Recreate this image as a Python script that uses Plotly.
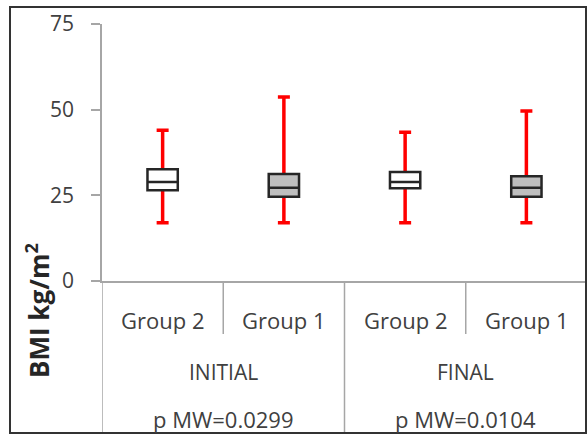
import plotly.graph_objects as go

# ---- data ----
groups = ["Group 2", "Group 1", "Group 2", "Group 1"]
periods = ["INITIAL", "FINAL"]
p_labels = ["p MW=0.0299", "p MW=0.0104"]
lower = [17.0, 17.0, 17.0, 17.0]
q1 = [26.5, 24.6, 27.1, 24.6]
median = [28.9, 27.2, 28.9, 27.2]
q3 = [32.6, 31.2, 31.8, 30.6]
upper = [44.0, 53.7, 43.4, 49.6]
fills = ["#ffffff", "#bfbfbf", "#ffffff", "#bfbfbf"]
y_ticks = [0, 25, 50, 75]

pos = list(range(len(groups)))
TXT = "#404040"
GRID = "#a6a6a6"
FONT = "Open Sans"

fig = go.Figure()

# red whiskers drawn as error bars of an invisible bar trace (bar layer lies below box layer)
fig.add_trace(go.Bar(
    x=pos, y=median, width=0.01,
    marker=dict(color="rgba(0,0,0,0)", line=dict(width=0)),
    error_y=dict(type="data", symmetric=False,
                 array=[u - m for u, m in zip(upper, median)],
                 arrayminus=[m - l for m, l in zip(median, lower)],
                 color="#ff0000", thickness=3.5, width=6),
    hoverinfo="skip", showlegend=False))

for i in pos:
    fig.add_trace(go.Box(
        x=[i], q1=[q1[i]], median=[median[i]], q3=[q3[i]],
        lowerfence=[q1[i]], upperfence=[q3[i]],
        width=0.25, fillcolor=fills[i],
        line=dict(color="#262626", width=2.5),
        boxpoints=False, showlegend=False, hoverinfo="skip"))

# layout geometry (pixels -> paper)
W, H = 588, 445
L, R, T, B = 102, 1, 24, 164
pw, ph = W - L - R, H - T - B
def px(xp):
    return (xp - L) / pw
def py(yp):
    return (H - B - yp) / ph

BOTTOM_PX = 433
shapes = []
bottom = py(BOTTOM_PX)
short = py(334)
for xv in [-0.5, 1.5]:
    shapes.append(dict(type="line", xref="x", yref="paper", x0=xv, x1=xv, y0=0, y1=bottom,
                       line=dict(color=GRID, width=1.5)))
for xv in [0.5, 2.5]:
    shapes.append(dict(type="line", xref="x", yref="paper", x0=xv, x1=xv, y0=0, y1=short,
                       line=dict(color=GRID, width=1.5)))
shapes.append(dict(type="rect", xref="paper", yref="paper",
                   x0=px(10), x1=px(586), y0=py(BOTTOM_PX), y1=py(7),
                   line=dict(color="#333333", width=2)))

annotations = []
for i, g in enumerate(groups):
    annotations.append(dict(x=i, y=py(320), xref="x", yref="paper", text=g, showarrow=False,
                            font=dict(family=FONT, size=22, color=TXT), yanchor="middle"))
for k, (p, pl) in enumerate(zip(periods, p_labels)):
    xc = 2 * k + 0.5
    annotations.append(dict(x=xc, y=py(372), xref="x", yref="paper", text=p, showarrow=False,
                            font=dict(family=FONT, size=21, color=TXT), yanchor="middle"))
    annotations.append(dict(x=xc, y=py(419), xref="x", yref="paper", text=pl, showarrow=False,
                            font=dict(family=FONT, size=22, color=TXT), yanchor="middle"))
annotations.append(dict(x=px(38), y=py(311), xref="paper", yref="paper",
                        text="<b>BMI kg/m<sup>2</sup></b>", textangle=-90, showarrow=False,
                        font=dict(family=FONT, size=26, color="#262626"),
                        xanchor="center", yanchor="middle"))

fig.update_layout(
    width=W, height=H,
    margin=dict(l=L, r=R, t=T, b=B),
    paper_bgcolor="white", plot_bgcolor="white",
    font=dict(family=FONT, color=TXT),
    xaxis=dict(range=[-0.5, 3.5], showticklabels=False, ticks="", showgrid=False,
               zeroline=False, showline=True, linecolor=GRID, linewidth=1.5, fixedrange=True),
    yaxis=dict(range=[0, 75], tickvals=y_ticks, ticks="outside", ticklen=9, tickwidth=1.5,
               tickcolor=GRID, showline=True, linecolor=GRID, linewidth=1.5,
               showgrid=False, zeroline=False, ticklabelstandoff=13,
               tickfont=dict(family=FONT, size=21, color=TXT)),
    shapes=shapes, annotations=annotations,
    showlegend=False, boxmode="overlay",
)

fig.write_html("out.html", config={"displayModeBar": False},
               post_script="document.body.style.margin='0px';document.body.style.overflow='hidden';")
